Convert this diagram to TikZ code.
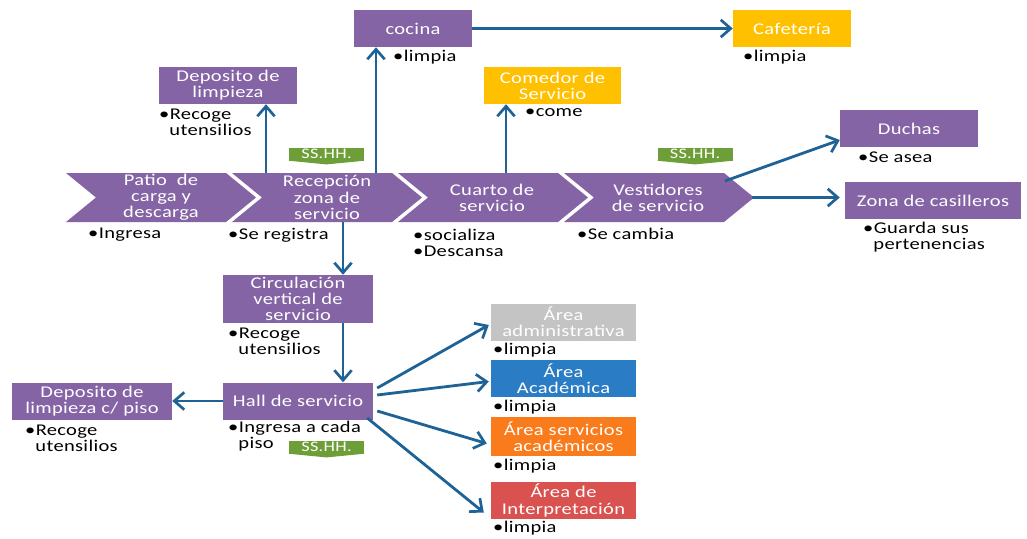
\documentclass[tikz,border=0pt]{standalone}
\usepackage{fontspec}
\setmainfont[FakeStretch=1.25, LetterSpace=2]{Carlito}
\usetikzlibrary{arrows.meta,calc}

\definecolor{morado}{HTML}{8564A5}
\definecolor{amarillo}{HTML}{FFC000}
\definecolor{gris}{HTML}{C4C4C4}
\definecolor{azulito}{HTML}{2A7DC4}
\definecolor{naranja}{HTML}{F97B1C}
\definecolor{rojo}{HTML}{D9524F}
\definecolor{verde}{HTML}{6E9E38}
\definecolor{flechazul}{HTML}{1F6396}

\tikzset{
  letra/.style={font=\fontsize{14}{13.8}\selectfont},
  caja/.style={letra, fill=morado, text=white, inner sep=0pt, align=center,
    minimum width=35.4mm, minimum height=11.1mm},
  chevtexto/.style={letra, text=white, inner sep=0pt, align=center},
  nota/.style={letra, anchor=west, align=left, inner sep=0pt},
  sshh/.style={fill=verde, text=white, inner sep=0pt, minimum width=22.5mm,
    minimum height=3.9mm, font=\fontsize{12.5}{12.5}\selectfont},
  flecha/.style={draw=flechazul, line width=2.4pt,
    -{Straight Barb[length=3mm,width=5.2mm,line width=2.3pt]}}
}

\begin{document}
\begin{tikzpicture}[x=0.3mm, y=-0.3mm]
\path[fill=white, use as bounding box] (0,0) rectangle (1027,538);

% banda de chevrones
\foreach \l in {66,232,398,564}
  \fill[morado] (\l,173) -- ++(160,0) -- ++(30,24.5) -- ++(-30,24.5)
    -- ++(-160,0) -- ++(30,-24.5) -- cycle;

\node[chevtexto] (patio) at (161,197.5) {Patio\ \ de\\carga y\\descarga};
\node[chevtexto] (recep) at (327,197.5) {Recepción\\zona de\\servicio};
\node[chevtexto] (cuarto) at (492,197.5) {Cuarto de\\servicio};
\node[chevtexto] (vest) at (658,197.5) {Vestidores\\de servicio};

\node[nota] (n-patio) at (88,235) {•Ingresa};
\node[nota] (n-recep) at (228,235) {•Se registra};
\node[nota] (n-cuarto) at (413,243) {•socializa\\•Descansa};
\node[nota] (n-vest) at (577,234) {•Se cambia};

% cajas
\node[caja] (cocina) at (413,28.5) {cocina};
\node[caja, fill=amarillo] (cafe) at (792,28.5) {Cafetería};
\node[caja, minimum width=41.4mm] (deplim) at (228,85.5) {Deposito de\\limpieza};
\node[caja, fill=amarillo, minimum width=41.1mm] (comedor) at (552.5,85.5) {Comedor de\\Servicio};
\node[caja, minimum width=41.4mm] (duchas) at (909,128.5) {Duchas};
\node[caja, minimum width=52.8mm] (casill) at (933,200.5) {Zona de casilleros};
\node[caja, minimum width=45mm, minimum height=14.4mm] (circ) at (298,299) {Circulación\\vertical de\\servicio};
\node[caja, minimum width=45mm] (hall) at (298,401) {Hall de servicio};
\node[caja, minimum width=48mm] (depiso) at (92,401) {Deposito de\\limpieza c/ piso};
\node[caja, fill=gris, minimum width=43.5mm] (admin) at (563.5,322) {Área\\administrativa};
\node[caja, fill=azulito, minimum width=43.5mm] (acad) at (563.5,378.5) {Área\\Académica};
\node[caja, fill=naranja, minimum width=43.5mm, minimum height=11.7mm] (servacad) at (563.5,436.5) {Área servicios\\académicos};
\node[caja, fill=rojo, minimum width=43.5mm] (interp) at (563.5,500.5) {Área de\\Interpretación};

\node[nota] (n-cocina) at (393,57) {•limpia};
\node[nota] (n-cafe) at (743,57) {•limpia};
\node[nota] (n-deplim) at (159,122) {•Recoge\\\phantom{•}utensilios};
\node[nota] (n-comedor) at (525,113) {•come};
\node[nota] (n-duchas) at (858,157) {•Se asea};
\node[nota] (n-casill) at (863,237) {•Guarda sus\\\phantom{•}pertenencias};
\node[nota] (n-circ) at (228,341) {•Recoge\\\phantom{•}utensilios};
\node[nota] (n-hall) at (228,436) {•Ingresa a cada\\\phantom{•}piso};
\node[nota] (n-depiso) at (25,438.5) {•Recoge\\\phantom{•}utensilios};
\node[nota] (n-admin) at (493,350) {•limpia};
\node[nota] (n-acad) at (493,407) {•limpia};
\node[nota] (n-servacad) at (493,466) {•limpia};
\node[nota] (n-interp) at (493,528) {•limpia};

% SS.HH.
\node[sshh] (wc1) at (326.5,154) {SS.HH.};
\node[sshh] (wc2) at (695,154) {SS.HH.};
\node[sshh] (wc3) at (326.5,447) {SS.HH.};
\foreach \t in {wc1,wc2,wc3}
  \fill[verde] (\t.south west) -- ([yshift=-1.1mm]\t.south) -- (\t.south east) -- cycle;

% flechas
\coordinate (r1) at (266,173);
\coordinate (r2) at (376,173);
\coordinate (r3) at (343,222);
\coordinate (c1) at (506,173);
\coordinate (v1) at (725,181);
\coordinate (v2) at (752,197.5);

\draw[flecha] (r1) -- (r1 |- deplim.south);
\draw[flecha] (r2) -- (r2 |- cocina.south);
\draw[flecha] (cocina.east) -- (cafe.west);
\draw[flecha] (c1) -- (c1 |- comedor.south);
\draw[flecha] (v1) -- ($(duchas.west)+(0,11.5)$);
\draw[flecha, shorten >=1.5mm] (v2) -- (v2 -| casill.west);
\draw[flecha] (r3) -- (r3 |- circ.north);
\draw[flecha] (r3 |- circ.south) -- (r3 |- hall.north);
\draw[flecha] (hall.west) -- (depiso.east);
\draw[flecha] ($(hall.east)+(4,-13)$) -- ($(admin.west)+(-2,3)$);
\draw[flecha] ($(hall.east)+(4,-6)$) -- ($(acad.west)+(-2,3)$);
\draw[flecha] ($(hall.east)+(4,10)$) -- ($(servacad.west)+(-4,7)$);
\draw[flecha] ($(hall.east)+(-6,17)$) -- ($(interp.west)+(-7,12)$);
\end{tikzpicture}
\end{document}
